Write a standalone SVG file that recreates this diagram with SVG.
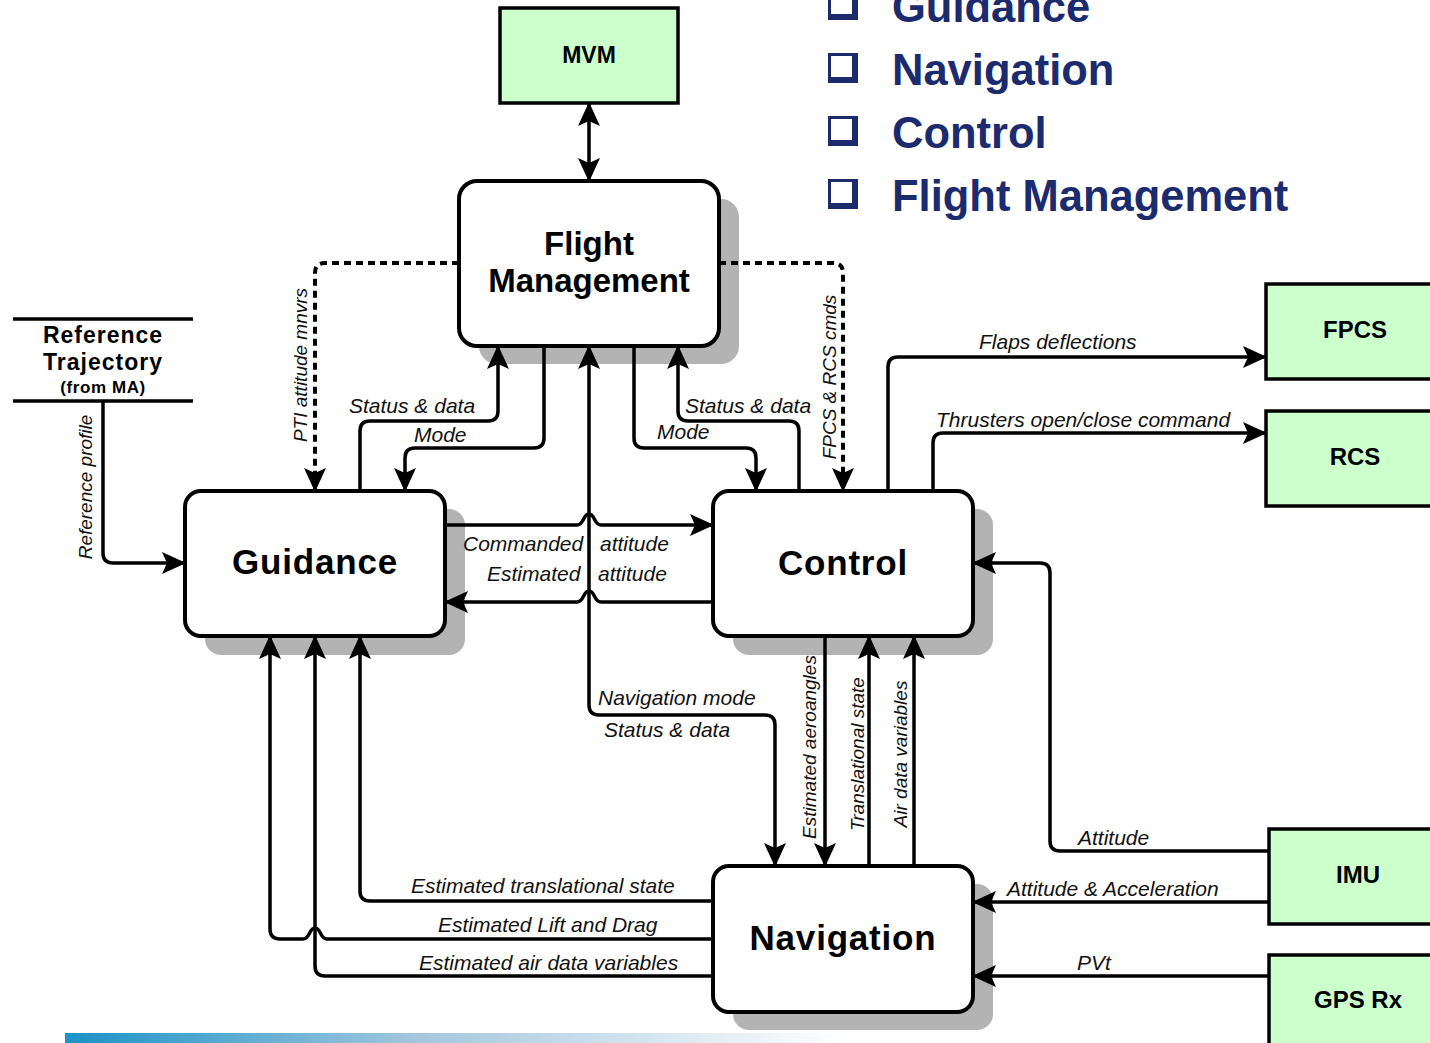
<svg xmlns="http://www.w3.org/2000/svg" width="1430" height="1043" viewBox="0 0 1430 1043">
<style>
.box{fill:#fff;stroke:#000;stroke-width:4}
.shadow{fill:#b3b3b3}
.ext{fill:#ccffcc;stroke:#000;stroke-width:3.5}
.c{fill:none;stroke:#000;stroke-width:3.5;stroke-linejoin:round}
.d{stroke-dasharray:7 5;stroke-width:4}
.t{font-family:"Liberation Sans",Arial,sans-serif;font-weight:bold;text-anchor:middle;fill:#000}
.big{font-size:35px;letter-spacing:0.8px}
.ex{font-size:24px}
.lbl{font-family:"Liberation Sans",Arial,sans-serif;font-style:italic;font-size:21px;fill:#111}
.vl{font-size:19px;text-anchor:middle}
.leg{font-family:"Liberation Sans",Arial,sans-serif;font-weight:bold;font-size:43.5px;fill:#1c2a6e}
.bul{fill:#1c2a6e}
</style>
<defs>
<marker id="ah" viewBox="0 0 24 22" markerWidth="24" markerHeight="22" refX="23" refY="11" orient="auto-start-reverse" markerUnits="userSpaceOnUse">
<path d="M0,0 L24,11 L0,22 L5,11 Z" fill="#000"/>
</marker>
<linearGradient id="bar" x1="0" y1="0" x2="1" y2="0">
<stop offset="0" stop-color="#1b92c6"/>
<stop offset="0.45" stop-color="#a3c6dd"/>
<stop offset="1" stop-color="#ffffff"/>
</linearGradient>
</defs>

<rect x="65" y="1033" width="780" height="10" fill="url(#bar)"/>

<g id="legend">
<rect class="bul" x="828" y="-10" width="30" height="30"/><rect x="831" y="-7" width="21" height="21" fill="#fff"/>
<text class="leg" x="892" y="22">Guidance</text>
<rect class="bul" x="828" y="53" width="30" height="30"/><rect x="831" y="56" width="21" height="21" fill="#fff"/>
<text class="leg" x="892" y="85">Navigation</text>
<rect class="bul" x="828" y="116" width="30" height="30"/><rect x="831" y="119" width="21" height="21" fill="#fff"/>
<text class="leg" x="892" y="148">Control</text>
<rect class="bul" x="828" y="179" width="30" height="30"/><rect x="831" y="182" width="21" height="21" fill="#fff"/>
<text class="leg" x="892" y="211">Flight Management</text>
</g>

<g id="mvm">
<rect class="ext" x="500" y="8" width="178" height="95"/>
<text class="t" x="589" y="63" font-size="23">MVM</text>
</g>

<g id="flight-management">
<rect class="shadow" x="479" y="199" width="260" height="165" rx="18"/>
<rect class="box" x="459" y="181" width="260" height="165" rx="18"/>
<text class="t" x="589" y="255" font-size="33">Flight</text>
<text class="t" x="589" y="292" font-size="33">Management</text>
</g>

<g id="guidance">
<rect class="shadow" x="205" y="509" width="260" height="146" rx="16"/>
<rect class="box" x="185" y="491" width="260" height="145" rx="16"/>
<text class="t big" x="315" y="574">Guidance</text>
</g>

<g id="control">
<rect class="shadow" x="733" y="509" width="260" height="146" rx="16"/>
<rect class="box" x="713" y="491" width="260" height="145" rx="16"/>
<text class="t big" x="843" y="575">Control</text>
</g>

<g id="navigation">
<rect class="shadow" x="733" y="884" width="260" height="146" rx="16"/>
<rect class="box" x="713" y="866" width="260" height="146" rx="16"/>
<text class="t big" x="843" y="950">Navigation</text>
</g>

<g id="reference-trajectory">
<line x1="13" y1="319" x2="193" y2="319" stroke="#000" stroke-width="3.5"/>
<line x1="13" y1="401" x2="193" y2="401" stroke="#000" stroke-width="3.5"/>
<text class="t" x="103" y="343" font-size="23" letter-spacing="1">Reference</text>
<text class="t" x="103" y="370" font-size="23" letter-spacing="1">Trajectory</text>
<text class="t" x="103" y="393" font-size="17" letter-spacing="0.6">(from MA)</text>
</g>

<g id="fpcs">
<rect class="ext" x="1266" y="284" width="200" height="95"/>
<text class="t ex" x="1355" y="338">FPCS</text>
</g>
<g id="rcs">
<rect class="ext" x="1266" y="411" width="200" height="95"/>
<text class="t ex" x="1355" y="465">RCS</text>
</g>
<g id="imu">
<rect class="ext" x="1269" y="829" width="200" height="95"/>
<text class="t ex" x="1358" y="883">IMU</text>
</g>
<g id="gps-rx">
<rect class="ext" x="1269" y="955" width="200" height="120"/>
<text class="t ex" x="1358" y="1008">GPS Rx</text>
</g>

<g id="connectors">
<path class="c" d="M589,103 V181" marker-start="url(#ah)" marker-end="url(#ah)"/>
<path class="c" d="M103,401 V553 Q103,563 113,563 H185" marker-end="url(#ah)"/>
<path class="c d" d="M459,263 H325 Q315,263 315,273 V491" marker-end="url(#ah)"/>
<path class="c d" d="M719,263 H833 Q843,263 843,273 V491" marker-end="url(#ah)"/>
<path class="c" d="M360,491 V431 Q360,421 370,421 H488 Q498,421 498,411 V346" marker-end="url(#ah)"/>
<path class="c" d="M544,346 V438 Q544,448 534,448 H415 Q405,448 405,458 V491" marker-end="url(#ah)"/>
<path class="c" d="M589,346 V705 Q589,715 599,715 H765 Q775,715 775,725 V866" marker-start="url(#ah)" marker-end="url(#ah)"/>
<path class="c" d="M634,346 V438 Q634,448 644,448 H746 Q756,448 756,458 V491" marker-end="url(#ah)"/>
<path class="c" d="M799,491 V431 Q799,421 789,421 H688 Q678,421 678,411 V346" marker-end="url(#ah)"/>
<path class="c" d="M445,525 H577 C584,525 583,514 589,514 C595,514 594,525 601,525 H713" marker-end="url(#ah)"/>
<path class="c" d="M713,602 H601 C594,602 595,591 589,591 C583,591 584,602 577,602 H445" marker-end="url(#ah)"/>
<path class="c" d="M888,491 V367 Q888,357 898,357 H1266" marker-end="url(#ah)"/>
<path class="c" d="M933,491 V443 Q933,433 943,433 H1266" marker-end="url(#ah)"/>
<path class="c" d="M1269,851 H1060 Q1050,851 1050,841 V573 Q1050,563 1040,563 H973" marker-end="url(#ah)"/>
<path class="c" d="M1269,902 H973" marker-end="url(#ah)"/>
<path class="c" d="M1269,976 H973" marker-end="url(#ah)"/>
<path class="c" d="M825,636 V866" marker-end="url(#ah)"/>
<path class="c" d="M869,866 V636" marker-end="url(#ah)"/>
<path class="c" d="M914,866 V636" marker-end="url(#ah)"/>
<path class="c" d="M713,901 H370 Q360,901 360,891 V636" marker-end="url(#ah)"/>
<path class="c" d="M713,939 H327 C320,939 321,928 315,928 C309,928 310,939 303,939 H280 Q270,939 270,929 V636" marker-end="url(#ah)"/>
<path class="c" d="M713,976 H325 Q315,976 315,966 V636" marker-end="url(#ah)"/>

<text class="lbl vl" transform="translate(92,487) rotate(-90)">Reference profile</text>
<text class="lbl vl" transform="translate(307,365) rotate(-90)">PTI attitude mnvrs</text>
<text class="lbl vl" transform="translate(836,377) rotate(-90)">FPCS &amp; RCS cmds</text>
<text class="lbl vl" transform="translate(816,747) rotate(-90)">Estimated aeroangles</text>
<text class="lbl vl" transform="translate(864,754) rotate(-90)">Translational state</text>
<text class="lbl vl" transform="translate(907,754) rotate(-90)">Air data variables</text>

<text class="lbl" x="349" y="413">Status &amp; data</text>
<text class="lbl" x="414" y="442">Mode</text>
<text class="lbl" x="685" y="413">Status &amp; data</text>
<text class="lbl" x="657" y="439">Mode</text>
<text class="lbl" x="463" y="551">Commanded</text>
<text class="lbl" x="600" y="551">attitude</text>
<text class="lbl" x="487" y="581">Estimated</text>
<text class="lbl" x="598" y="581">attitude</text>
<text class="lbl" x="598" y="705">Navigation mode</text>
<text class="lbl" x="604" y="737">Status &amp; data</text>
<text class="lbl" x="979" y="349">Flaps deflections</text>
<text class="lbl" x="936" y="427">Thrusters open/close command</text>
<text class="lbl" x="1078" y="845">Attitude</text>
<text class="lbl" x="1007" y="896">Attitude &amp; Acceleration</text>
<text class="lbl" x="1077" y="970">PVt</text>
<text class="lbl" x="411" y="893">Estimated translational state</text>
<text class="lbl" x="438" y="932">Estimated Lift and Drag</text>
<text class="lbl" x="419" y="970">Estimated air data variables</text>
</g>
</svg>
